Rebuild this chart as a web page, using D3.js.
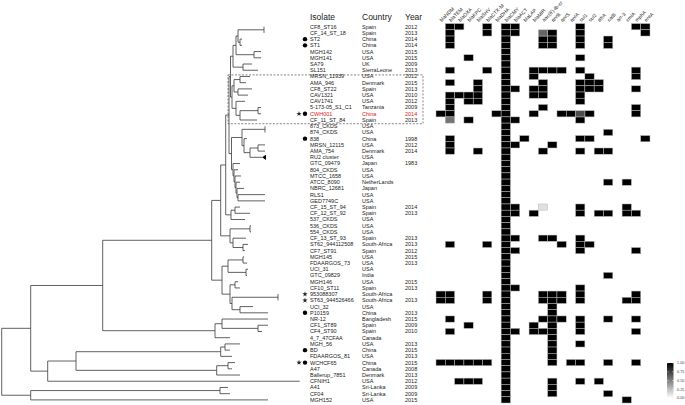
<!DOCTYPE html>
<html><head><meta charset="utf-8">
<script src="https://cdn.jsdelivr.net/npm/d3@7"></script>
<style>body{margin:0;background:#fff}svg{display:block;font-family:"Liberation Sans",Arial,sans-serif}</style>
</head><body><svg id="c" width="685" height="405"></svg>
<script>
const isolates = ["CF8_ST16","CF_14_ST_18","ST2","ST1","MGH142","MGH141","SA79","SL151","MRSN_11939","AMA_946","CF8_ST22","CAV1321","CAV1741","5-173-05_S1_C1","CWH001","CF_11_ST_84","873_CKDS","874_CKDS","838","MRSN_12115","AMA_754","RU2 cluster","GTC_09479","804_CKDS","MTCC_1658","ATCC_8090","NBRC_12681","RLS1","GED7749C","CF_15_ST_94","CF_12_ST_92","537_CKDS","536_CKDS","554_CKDS","CF_13_ST_93","ST62_944112508","CF7_ST91","MGH145","FDAARGOS_73","UCI_31","GTC_09829","MGH146","CF10_ST11","953088307","ST63_944526466","UCI_32","P10159","NR-12","CF1_ST89","CF4_ST90","4_7_47CFAA","MGH_56","BD","FDAARGOS_81","WCHCF65","A47","Ballerup_7851","CFNIH1","A41","CF04","MGH152"];
const countries = ["Spain","Spain","China","China","USA","USA","UK","SierraLeone","USA","Denmark","Spain","USA","USA","Tanzania","China","Spain","USA","USA","China","USA","Denmark","USA","Japan","USA","USA","NetherLands","Japan","USA","USA","Spain","Spain","USA","USA","USA","Spain","South-Africa","Spain","USA","USA","USA","India","USA","Spain","South-Africa","South-Africa","USA","China","Bangladesh","Spain","Spain","Canada","USA","China","USA","China","Canada","Denmark","USA","Sri-Lanka","Sri-Lanka","USA"];
const years = ["2012","2013","2014","2014","2015","2015","2009","2013","2012","2015","2013","2010","2012","2009","2014","2013","","","1998","2012","2014","","1983","","","","","","","2014","2013","","","","2013","2013","2012","2015","2013","","","2015","2013","","2013","","2013","2015","2009","2010","","2013","2015","2013","2015","2008","2013","2012","2009","2009","2015"];
const genes = ["blaNDM","blaTEM","blaOXA","blaKPC","blaSHV","blaCTX-M","blaDHA","blaCMY","blaACT","blaLAP","blaMIR","aac(6')-Ib-cr","qnrB","qnrS","qnrA","sul1","sul2","dfrA","catB","arr-3","cmlA","mphA","ereA"];
// columns present (value 1) per isolate row
const presence = [
 [1,2,5,7,8,15,21,22],[1,5,7,8,12,15,22],[1,7,11,12,15,18],[1,7,11,12,15,18],[7],[3,7,15],[7],
 [1,5,7,10,11,12,13,15,21],[7,10,16,21],[1,4,7,11,15,16,17],[4,7,8,10,11,15,16,17,21],[1,2,3,4,7,10,11,15],
 [1,3,4,7,15],[1,7,11,21],[0,1,6,7,10,13,14,16,21],[3,7,8,15],[7],[7,18],[1,7,9,15,16,22],[1,7,8,12],
 [1,4,7,11,15,17,18],[7],[7],[7],[7],[7,18,20],[7],[7],[7],[7,8,15,20],[7,8,10,15,17,18,20,21],[7],[7],[7],
 [7,8,11,12,15],[1,5,7,13,15,16],[7,8,15,21],[7],[7],[7],[7,18],[7],[7,8,15],[0,1,5,7,11,12,13,15,21],
 [0,1,5,7,11,12,13,15,20,21],[7,12],[7,12],[1,7,11,12,13,15,18,21],[3,7,10,12,15],[1,7,8,10,11,12,15,21],
 [7,12],[7,12,15],[7,12],[7,12],[0,1,2,3,4,5,7,12,14,15,18,21],[7],[7],[2,3,4,7,12,15,17],[7,12],[7,12,18],[7,20]
];
// partial values [row, column, value]
const partial = [[1,11,0.6],[14,15,0.7],[15,1,0.55],[29,11,0.12]];
const starRows = ["CWH001","953088307","ST63_944526466","WCHCF65"];
const dotRows = ["ST2","ST1","CWH001","838","P10159","BD","WCHCF65"];
const collapsed = ["RU2 cluster"];
const highlight = "CWH001";
const boxRows = ["MRSN_11939","CF_11_ST_84"];
const legendTicks = [1,0.75,0.5,0.25,0];

// tree (Newick, branch lengths)
const cladeA = "(((((CF8_ST16:0,CF_14_ST_18:0):26,(ST2:2,ST1:2):2):2,(MGH142:7,MGH141:7):18):3,(SA79:9,SL151:15):10)";
const cladeBox = "(((MRSN_11939:10,AMA_946:6):6,(CF8_ST22:14,CAV1321:10):4):2,(CAV1741:9,((5-173-05_S1_C1:3,CWH001:3):18,CF_11_ST_84:17):4):4)";
const cladeC = "(((873_CKDS:0,874_CKDS:0):23,(838:3,((MRSN_12115:7,AMA_754:7):8,RU2 cluster:12):6):2):10.5,(GTC_09479:7,(804_CKDS:4,(MTCC_1658:6,(ATCC_8090:4,(NBRC_12681:7,(RLS1:27,GED7749C:27):1):1):1):1):1):1.5)";
const cladeP = "((CF_15_ST_94:5,CF_12_ST_92:15):4,537_CKDS:14)";
const cladeY = "((536_CKDS:1,554_CKDS:1):20,(CF_13_ST_93:13,(ST62_944112508:5,CF7_ST91:2):10):3)";
const cladeE = "(((MGH145:1,FDAARGOS_73:4):15,(UCI_31:2,GTC_09829:1):18):6,((MGH146:3,CF10_ST11:5):5,((953088307:0,ST63_944526466:0):46,(UCI_32:13,P10159:28):8):2):8)";
const cladeF = "((NR-12:46,(CF1_ST89:10,CF4_ST90:4):36):7,4_7_47CFAA:15)";
const cladeH1 = "((MGH_56:15,BD:5):4.3,FDAARGOS_81:11.3)";
const cladeH2 = "((WCHCF65:7,A47:4):11.3,Ballerup_7851:23.3)";
const treeNewick = `((((((((${cladeA}:2.5,${cladeBox}:1.5):1.5,${cladeC}:2.5):3.3,${cladeP}:5.3):5,${cladeY}:9.3):9,${cladeE}:10.3):109,${cladeF}:112.3):72,((${cladeH1}:144.7,${cladeH2}:140.7):28.3,CFNIH1:252):17):29,((A41:8,CF04:10):189.3,MGH152:237.3):29);`;

function parseNewick(str){
  const s = str.replace(/\s*([(),:;])\s*/g,'$1').replace(/\n/g,'');
  let i = 0;
  function node(){
    const n = {};
    if (s[i] === '('){
      n.children = []; i++;
      while (true){ n.children.push(node()); if (s[i] === ','){ i++; continue; } break; }
      i++;
    }
    let name = ''; while (i < s.length && !',():;'.includes(s[i])) name += s[i++];
    n.name = name.trim();
    n.length = 0;
    if (s[i] === ':'){ i++; let num = ''; while (i < s.length && !',();'.includes(s[i])) num += s[i++]; n.length = +num; }
    return n;
  }
  return node();
}

const svg = d3.select("#c");
const y = d3.scalePoint().domain(isolates).range([26.7, 399.9]);
const step = y.step();
const x = d3.scaleBand().domain(genes).range([436, 650]).padding(0);
const color = d3.scaleLinear().domain([0,1]).range(["#ffffff","#000000"]);

// tree
const root = d3.hierarchy(parseNewick(treeNewick));
root.each(n => { n.dist = (n.parent ? n.parent.dist : 0) + n.data.length; });
const tx = d3.scaleLinear().domain([0, 300]).range([1.7, 301.7]);
root.eachAfter(n => { n.yy = n.children ? d3.mean(n.children, c => c.yy) : y(n.data.name); });
const gT = svg.append("g").attr("stroke","#3a3a3a").attr("stroke-width",0.8).attr("fill","none");
root.descendants().forEach(n => {
  if (n.parent) gT.append("line").attr("x1", tx(n.parent.dist)).attr("x2", tx(n.dist)).attr("y1", n.yy).attr("y2", n.yy);
  if (n.children) {
    const ys = n.children.map(c => c.yy);
    gT.append("line").attr("x1", tx(n.dist)).attr("x2", tx(n.dist)).attr("y1", d3.min(ys)).attr("y2", d3.max(ys));
  }
});
root.leaves().filter(l => collapsed.includes(l.data.name)).forEach(l => {
  const px = tx(l.dist), py = l.yy;
  svg.append("path").attr("d", `M${px},${py}L${px+4},${py-2.6}L${px+4},${py+2.6}Z`).attr("fill","#000");
});

// dashed box
svg.append("rect").attr("x", 228).attr("y", y(boxRows[0]) - step*0.25).attr("width", 423-228)
  .attr("height", y(boxRows[1]) - y(boxRows[0]) + step*0.85)
  .attr("fill","none").attr("stroke","#333").attr("stroke-width",0.6).attr("stroke-dasharray","2,1.5");

// headers
const hdr = svg.append("g").attr("font-size", 8.5).attr("fill","#222");
hdr.append("text").attr("x",310).attr("y",20).text("Isolate");
hdr.append("text").attr("x",362).attr("y",20).text("Country");
hdr.append("text").attr("x",405).attr("y",20).text("Year");

// labels
const lab = svg.append("g").attr("font-size", 5.5);
isolates.forEach((d,i) => {
  const col = d === highlight ? "#e0201b" : "#222";
  lab.append("text").attr("x",310).attr("y",y(d)).attr("dy","0.35em").attr("fill",col).text(d);
  lab.append("text").attr("x",362).attr("y",y(d)).attr("dy","0.35em").attr("fill",col).text(countries[i]);
  if (years[i]) lab.append("text").attr("x",405).attr("y",y(d)).attr("dy","0.35em").attr("fill",col).text(years[i]);
});
// markers
dotRows.forEach(d => svg.append("circle").attr("cx",305).attr("cy",y(d)).attr("r",2.2).attr("fill","#000"));
const star = d3.symbol().type(d3.symbolStar).size(9);
starRows.forEach(d => {
  const sx = dotRows.includes(d) ? 299 : 305;
  svg.append("path").attr("d", star()).attr("transform",`translate(${sx},${y(d)})`).attr("fill","#222");
});

// heatmap
const cells = [];
presence.forEach((cols, r) => cols.forEach(c => cells.push({r, c, v: 1})));
partial.forEach(([r,c,v]) => cells.push({r, c, v}));
svg.append("g").selectAll("rect").data(cells).join("rect")
  .attr("x", d => x(genes[d.c])).attr("y", d => y(isolates[d.r]) - step/2)
  .attr("width", x.bandwidth()).attr("height", step)
  .attr("fill", d => color(d.v)).attr("stroke","#bbb").attr("stroke-width",0.5);

// gene headers
svg.append("g").attr("font-size",5).attr("fill","#222").selectAll("text").data(genes).join("text")
  .attr("transform", d => `translate(${x(d)+x.bandwidth()/2+1},${22}) rotate(-45)`).text(d => d);

// legend
const defs = svg.append("defs");
const grad = defs.append("linearGradient").attr("id","lg").attr("x1",0).attr("x2",0).attr("y1",0).attr("y2",1);
grad.append("stop").attr("offset","0%").attr("stop-color",color(1));
grad.append("stop").attr("offset","100%").attr("stop-color",color(0));
const ly = d3.scaleLinear().domain([1,0]).range([363,398]);
svg.append("rect").attr("x",667).attr("y",363).attr("width",6.5).attr("height",35).attr("fill","url(#lg)");
const lg = svg.append("g").attr("font-size",3.8).attr("fill","#444");
legendTicks.forEach(t => {
  lg.append("text").attr("x",677).attr("y",ly(t)).attr("dy","0.35em").text(d3.format(".2f")(t));
  svg.append("line").attr("x1",667).attr("x2",668.5).attr("y1",ly(t)).attr("y2",ly(t)).attr("stroke","#fff").attr("stroke-width",0.4);
  svg.append("line").attr("x1",672).attr("x2",673.5).attr("y1",ly(t)).attr("y2",ly(t)).attr("stroke","#fff").attr("stroke-width",0.4);
});
</script></body></html>
